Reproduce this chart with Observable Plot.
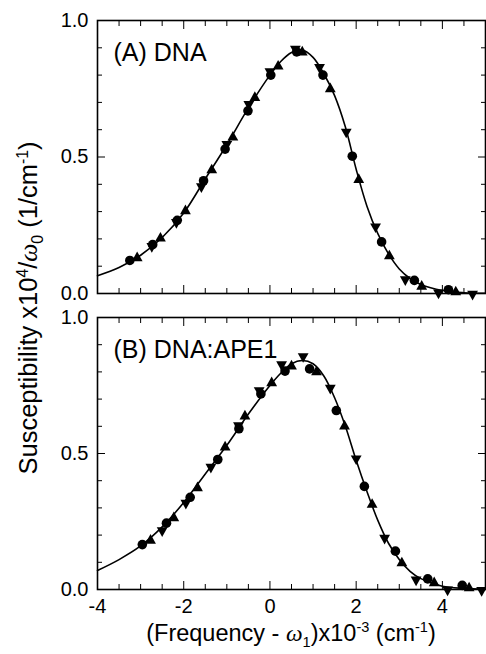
<!DOCTYPE html>
<html><head><meta charset="utf-8">
<script src="https://cdn.jsdelivr.net/npm/d3@7"></script>
<script src="https://cdn.jsdelivr.net/npm/@observablehq/plot@0.6"></script>
<style>
body{margin:0;background:#fff;}
#fig{position:relative;width:486px;height:654px;font-family:"Liberation Sans",Arial,sans-serif;color:#000;background:#fff;overflow:hidden;}
#fig svg{position:absolute;left:0;}
.ytitle{position:absolute;left:29px;top:308px;transform:translate(-50%,-50%) rotate(-90deg);white-space:nowrap;font-size:25.5px;line-height:1;}
.xtitle{position:absolute;left:291px;top:634px;transform:translate(-50%,-50%);white-space:nowrap;font-size:23.5px;line-height:1;}
.w{font-family:"Liberation Serif","DejaVu Serif",serif;font-style:italic;}
sup,sub{font-size:62%;line-height:0;}
</style>
</head><body>
<div id="fig">
  <div class="ytitle">Susceptibility x10<sup>4</sup>/<span class="w">ω</span><sub>0</sub> (1/cm<sup>-1</sup>)</div>
  <div class="xtitle">(Frequency - <span class="w">ω</span><sub>1</sub>)x10<sup>-3</sup> (cm<sup>-1</sup>)</div>
</div>
<script>
// ---- axis ticks ----
const xMajor = [-4, -2, 0, 2, 4];
const xMinor = [-3.5, -3, -2.5, -1.5, -1, -0.5, 0.5, 1, 1.5, 2.5, 3, 3.5, 4.5];
const yMajor = [0, 0.5, 1];
const yMinor = [0.1, 0.2, 0.3, 0.4, 0.6, 0.7, 0.8, 0.9];

// ---- panel A: DNA ----
const aCircX = [-3.25, -2.72, -2.15, -1.54, -1.04, -0.51, 0.02, 0.62, 1.23, 1.91, 2.59, 3.35, 4.14];
const aCircY = [0.121, 0.179, 0.268, 0.413, 0.529, 0.669, 0.80, 0.885, 0.80, 0.503, 0.189, 0.048, 0.014];
const aUpX = [-3.08, -2.54, -1.96, -1.35, -0.86, -0.35, 0.19, 0.75, 1.40, 2.06, 2.77, 3.52, 4.31];
const aUpY = [0.133, 0.205, 0.305, 0.455, 0.575, 0.72, 0.835, 0.887, 0.752, 0.42, 0.14, 0.029, 0.008];
const aDownX = [-2.74, -2.17, -1.59, -1.0, -0.49, 0.0, 0.59, 1.15, 1.77, 2.45, 3.14, 3.91, 4.70];
const aDownY = [0.17, 0.258, 0.389, 0.544, 0.69, 0.81, 0.893, 0.826, 0.589, 0.242, 0.048, 0.0, -0.005];
const aFitX = [-4, -3.5, -3, -2.5, -2, -1.5, -1, -0.5, 0, 0.25, 0.5, 0.75, 1, 1.25, 1.5, 1.75, 2, 2.25, 2.5, 2.75, 3, 3.25, 3.5, 4, 4.5, 5];
const aFitY = [0.065, 0.095, 0.14, 0.205, 0.295, 0.42, 0.545, 0.68, 0.80, 0.85, 0.883, 0.892, 0.865, 0.805, 0.725, 0.61, 0.455, 0.32, 0.22, 0.145, 0.09, 0.055, 0.033, 0.011, 0.003, 0.001];

// ---- panel B: DNA:APE1 ----
const bCircX = [-2.96, -2.40, -1.85, -1.21, -0.72, -0.21, 0.35, 0.92, 1.54, 2.19, 2.91, 3.66, 4.46];
const bCircY = [0.165, 0.244, 0.339, 0.478, 0.591, 0.719, 0.803, 0.811, 0.658, 0.379, 0.141, 0.039, 0.015];
const bUpX = [-2.77, -2.23, -1.68, -1.04, -0.58, 0.04, 0.50, 1.08, 1.73, 2.37, 3.06, 3.81, 4.62];
const bUpY = [0.183, 0.266, 0.376, 0.526, 0.64, 0.762, 0.824, 0.803, 0.603, 0.315, 0.10, 0.027, 0.008];
const bDownX = [-2.50, -1.95, -1.37, -0.73, -0.25, 0.27, 0.77, 1.40, 2.0, 2.66, 3.39, 4.12, 4.91];
const bDownY = [0.214, 0.315, 0.447, 0.60, 0.729, 0.824, 0.854, 0.738, 0.478, 0.186, 0.033, -0.004, -0.006];
const bFitX = [-4, -3.5, -3, -2.5, -2, -1.5, -1, -0.5, 0, 0.25, 0.5, 0.75, 1, 1.25, 1.5, 1.75, 2, 2.25, 2.5, 2.75, 3, 3.25, 3.5, 4, 4.5, 5];
const bFitY = [0.07, 0.11, 0.16, 0.23, 0.32, 0.425, 0.53, 0.645, 0.75, 0.795, 0.83, 0.842, 0.83, 0.785, 0.705, 0.60, 0.475, 0.36, 0.255, 0.17, 0.11, 0.067, 0.04, 0.012, 0.004, 0.001];

const labels = ["(A) DNA", "(B) DNA:APE1"];

// ---- symbols ----
const triUp = {draw(c, size) {
  const r = Math.sqrt(size / Math.PI);
  c.moveTo(0, -1.25 * r); c.lineTo(1.2 * r, 0.9 * r); c.lineTo(-1.2 * r, 0.9 * r); c.closePath();
}};
const triDown = {draw(c, size) {
  const r = Math.sqrt(size / Math.PI);
  c.moveTo(0, 1.25 * r); c.lineTo(1.2 * r, -0.9 * r); c.lineTo(-1.2 * r, -0.9 * r); c.closePath();
}};

const pts = (xs, ys) => xs.map((x, i) => ({x, y: ys[i]}));

function panel(d, opts) {
  const marks = [
    Plot.line(pts(d.fx, d.fy), {x: "x", y: "y", curve: "catmull-rom", stroke: "#000", strokeWidth: 1.6}),
    Plot.dot(pts(d.cx, d.cy), {x: "x", y: "y", r: 4.8, fill: "#000", symbol: "circle"}),
    Plot.dot(pts(d.ux, d.uy), {x: "x", y: "y", r: 4.5, fill: "#000", symbol: triUp}),
    Plot.dot(pts(d.dx, d.dy), {x: "x", y: "y", r: 4.5, fill: "#000", symbol: triDown}),
    Plot.frame({stroke: "#000", strokeWidth: 1.6}),
    Plot.axisY(yMajor, {tickSize: 0, tickPadding: 9, tickFormat: d3.format(".1f"), label: null}),
    Plot.axisY(yMajor, {anchor: "left", tickSize: -8, fill: "none", label: null}),
    Plot.axisY(yMinor, {anchor: "left", tickSize: -5, fill: "none", label: null}),
    Plot.axisY(yMajor, {anchor: "right", tickSize: -8, fill: "none", label: null}),
    Plot.axisY(yMinor, {anchor: "right", tickSize: -5, fill: "none", label: null}),
    Plot.axisX(xMajor, {anchor: "bottom", tickSize: -8, fill: "none", label: null}),
    Plot.axisX(xMinor, {anchor: "bottom", tickSize: -5, fill: "none", label: null}),
    Plot.axisX(xMajor, {anchor: "top", tickSize: -8, fill: "none", label: null}),
    Plot.axisX(xMinor, {anchor: "top", tickSize: -5, fill: "none", label: null}),
    Plot.text([d.label], {frameAnchor: "top-left", dx: 16, dy: 32, fontSize: 25, textAnchor: "start", lineAnchor: "middle", fill: "#000"})
  ];
  if (opts.showX) marks.push(Plot.axisX(xMajor, {anchor: "bottom", tickSize: 0, tickPadding: 9, tickFormat: v => String(v), label: null}));
  return Plot.plot({
    width: 486, height: opts.height,
    marginLeft: 97, marginRight: 1, marginTop: opts.marginTop, marginBottom: opts.marginBottom,
    style: {fontFamily: "'Liberation Sans', Arial, sans-serif", fontSize: "20px", color: "#000", background: "transparent", overflow: "visible"},
    x: {domain: [-4, 5], label: null},
    y: {domain: [0, 1], label: null},
    marks
  });
}

const fig = document.getElementById("fig");
const p1 = panel({cx: aCircX, cy: aCircY, ux: aUpX, uy: aUpY, dx: aDownX, dy: aDownY, fx: aFitX, fy: aFitY, label: labels[0]},
  {height: 301, marginTop: 20, marginBottom: 8, showX: false});
p1.style.top = "0px";
const p2 = panel({cx: bCircX, cy: bCircY, ux: bUpX, uy: bUpY, dx: bDownX, dy: bDownY, fx: bFitX, fy: bFitY, label: labels[1]},
  {height: 353, marginTop: 16, marginBottom: 65, showX: true});
p2.style.top = "301px";
fig.insertBefore(p1, fig.firstChild);
fig.insertBefore(p2, fig.firstChild);
</script>
</body></html>
